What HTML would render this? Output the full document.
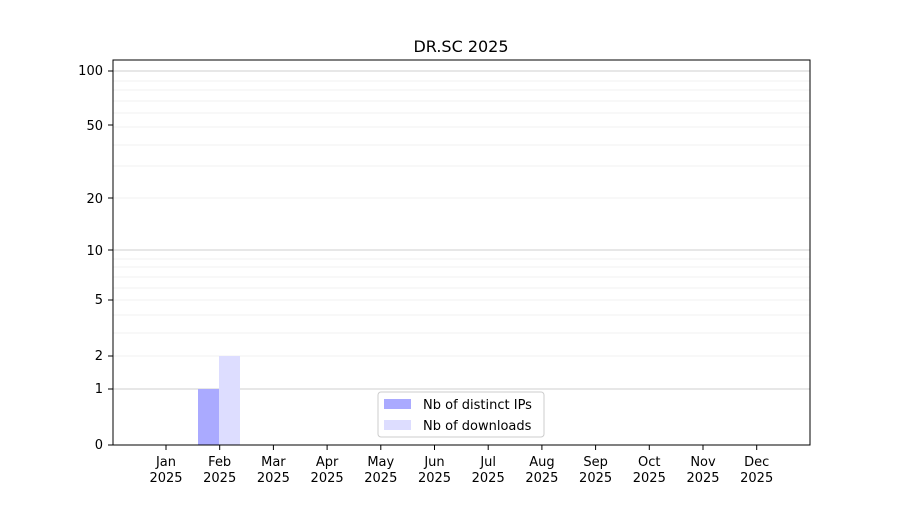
<!DOCTYPE html>
<html><head><meta charset="utf-8"><style>
body{margin:0;background:#fff}
text{font-family:"DejaVu Sans","Liberation Sans",sans-serif;font-size:13px;fill:#000}
</style></head><body>
<svg width="900" height="500" xmlns="http://www.w3.org/2000/svg">
<rect width="900" height="500" fill="#fff"/>
<g stroke="#ececec" stroke-width="0.8">
<line x1="113" x2="810" y1="356" y2="356"/>
<line x1="113" x2="810" y1="333" y2="333"/>
<line x1="113" x2="810" y1="315" y2="315"/>
<line x1="113" x2="810" y1="300" y2="300"/>
<line x1="113" x2="810" y1="288" y2="288"/>
<line x1="113" x2="810" y1="277" y2="277"/>
<line x1="113" x2="810" y1="267" y2="267"/>
<line x1="113" x2="810" y1="259" y2="259"/>
<line x1="113" x2="810" y1="198" y2="198"/>
<line x1="113" x2="810" y1="166" y2="166"/>
<line x1="113" x2="810" y1="145" y2="145"/>
<line x1="113" x2="810" y1="127" y2="127"/>
<line x1="113" x2="810" y1="113" y2="113"/>
<line x1="113" x2="810" y1="101" y2="101"/>
<line x1="113" x2="810" y1="90" y2="90"/>
<line x1="113" x2="810" y1="81" y2="81"/>
</g>
<g stroke="#cfcfcf" stroke-width="1">
<line x1="113" x2="810" y1="389" y2="389"/>
<line x1="113" x2="810" y1="250" y2="250"/>
<line x1="113" x2="810" y1="71" y2="71"/>
</g>
<rect x="198" y="389" width="21" height="56" fill="#aaaaff"/>
<rect x="219" y="356" width="21" height="89" fill="#ddddff"/>
<rect x="113" y="60" width="697" height="385" fill="none" stroke="#000" stroke-width="1"/>
<text x="461" y="52" text-anchor="middle" style="font-size:16px">DR.SC 2025</text>
<g text-anchor="end">
<text x="103" y="449">0</text><text x="103" y="393">1</text><text x="103" y="360">2</text>
<text x="103" y="304">5</text><text x="103" y="255">10</text><text x="103" y="203">20</text>
<text x="103" y="130">50</text><text x="103" y="75">100</text>
</g>
<g stroke="#000"><line x1="108" x2="113" y1="445" y2="445"/><line x1="108" x2="113" y1="389" y2="389"/><line x1="108" x2="113" y1="356" y2="356"/><line x1="108" x2="113" y1="300" y2="300"/><line x1="108" x2="113" y1="250" y2="250"/><line x1="108" x2="113" y1="198" y2="198"/><line x1="108" x2="113" y1="125" y2="125"/><line x1="108" x2="113" y1="71" y2="71"/></g>
<g stroke="#000">
<line x1="166" x2="166" y1="445" y2="450"/><line x1="219.7" x2="219.7" y1="445" y2="450"/><line x1="273.4" x2="273.4" y1="445" y2="450"/><line x1="327.1" x2="327.1" y1="445" y2="450"/><line x1="380.8" x2="380.8" y1="445" y2="450"/><line x1="434.5" x2="434.5" y1="445" y2="450"/><line x1="488.2" x2="488.2" y1="445" y2="450"/><line x1="541.9" x2="541.9" y1="445" y2="450"/><line x1="595.6" x2="595.6" y1="445" y2="450"/><line x1="649.3" x2="649.3" y1="445" y2="450"/><line x1="703" x2="703" y1="445" y2="450"/><line x1="756.7" x2="756.7" y1="445" y2="450"/>
</g>
<g text-anchor="middle">
<text x="166" y="466">Jan</text><text x="166" y="482">2025</text>
<text x="219.7" y="466">Feb</text><text x="219.7" y="482">2025</text>
<text x="273.4" y="466">Mar</text><text x="273.4" y="482">2025</text>
<text x="327.1" y="466">Apr</text><text x="327.1" y="482">2025</text>
<text x="380.8" y="466">May</text><text x="380.8" y="482">2025</text>
<text x="434.5" y="466">Jun</text><text x="434.5" y="482">2025</text>
<text x="488.2" y="466">Jul</text><text x="488.2" y="482">2025</text>
<text x="541.9" y="466">Aug</text><text x="541.9" y="482">2025</text>
<text x="595.6" y="466">Sep</text><text x="595.6" y="482">2025</text>
<text x="649.3" y="466">Oct</text><text x="649.3" y="482">2025</text>
<text x="703" y="466">Nov</text><text x="703" y="482">2025</text>
<text x="756.7" y="466">Dec</text><text x="756.7" y="482">2025</text>
</g>
<rect x="378" y="392" width="166" height="45" rx="3" stroke="#ccc" fill="#fff"/>
<rect x="384" y="399" width="27" height="10" fill="#aaaaff"/>
<rect x="384" y="420" width="27" height="10" fill="#ddddff"/>
<text x="423" y="409">Nb of distinct IPs</text>
<text x="423" y="430">Nb of downloads</text>
</svg>
</body></html>
